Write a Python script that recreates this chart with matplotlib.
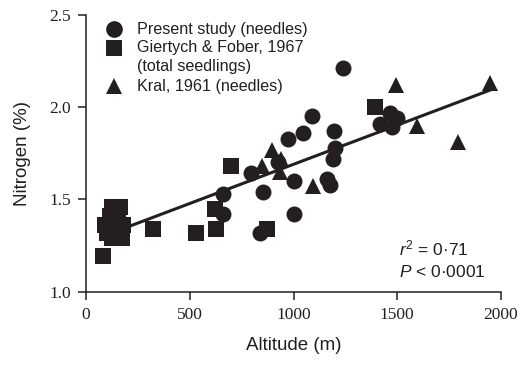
import numpy as np
import matplotlib
matplotlib.use('Agg')
import matplotlib.pyplot as plt

# Present study (needles)
present_alt = [1240, 1091, 1047, 975, 1195, 1200, 1190, 795, 925, 1000, 855,
               662, 662, 1004, 839, 1160, 1176, 1417, 1473, 1465, 1497]
present_n = [2.21, 1.95, 1.86, 1.83, 1.87, 1.78, 1.72, 1.645, 1.70, 1.60, 1.54,
             1.53, 1.42, 1.42, 1.32, 1.61, 1.58, 1.91, 1.89, 1.97, 1.94]

# Giertych & Fober, 1967 (total seedlings)
giertych_alt = [697, 622, 627, 530, 874, 83, 321, 1393,
                124, 164, 116, 156, 92, 140, 176, 100, 124, 172]
giertych_n = [1.68, 1.45, 1.34, 1.32, 1.34, 1.19, 1.34, 2.00,
              1.46, 1.46, 1.41, 1.41, 1.36, 1.36, 1.36, 1.32, 1.29, 1.29]

# Kral, 1961 (needles)
kral_alt = [895, 847, 940, 935, 1096, 1494, 1594, 1794, 1947]
kral_n = [1.77, 1.68, 1.72, 1.65, 1.57, 2.12, 1.90, 1.81, 2.13]

# regression line
fit_intercept = 1.265
fit_slope = 0.000425
fit_range = [200, 1950]

ink = '#231f20'
sans = 'Liberation Sans'
serif = 'Liberation Serif'

plt.rcParams['mathtext.fontset'] = 'custom'
plt.rcParams['mathtext.rm'] = sans
plt.rcParams['mathtext.it'] = sans + ':italic'

fig = plt.figure(figsize=(5.22, 3.67), dpi=100)
ax = fig.add_axes([86 / 522, 1 - 291.5 / 367, 415 / 522, 276.5 / 367])

fx = np.array(fit_range)
ax.plot(fx, fit_intercept + fit_slope * fx, color=ink, lw=2.2, zorder=2)

ax.plot(giertych_alt, giertych_n, 's', ms=11, color=ink, mew=0, zorder=3)
ax.plot(present_alt, present_n, 'o', ms=11.5, color=ink, mew=0, zorder=3)
ax.plot(kral_alt, kral_n, '^', ms=11.5, color=ink, mew=0, zorder=3)

ax.set_xlim(0, 2000)
ax.set_ylim(1.0, 2.5)
ax.set_xticks([0, 500, 1000, 1500, 2000])
ax.set_yticks([1.0, 1.5, 2.0, 2.5])
ax.set_xticklabels(['0', '500', '1000', '1500', '2000'], family=serif, fontsize=12.5)
ax.set_yticklabels(['1.0', '1.5', '2.0', '2.5'], family=serif, fontsize=12.5)
ax.tick_params(direction='out', length=6, width=1.1, color=ink, labelcolor=ink, pad=5)

for side in ['top', 'right']:
    ax.spines[side].set_visible(False)
for side in ['left', 'bottom']:
    ax.spines[side].set_linewidth(1.1)
    ax.spines[side].set_color(ink)

ax.set_xlabel('Altitude (m)', family=sans, fontsize=13.5, color=ink, labelpad=10)
ax.set_ylabel('Nitrogen (%)', family=sans, fontsize=13.5, color=ink, labelpad=13)

# legend drawn by hand so the marker sits on the first line of a two-line label
kx, tx = 0.0675, 0.123
entries = [('o', 0.949, 'Present study (needles)'),
           ('s', 0.881, 'Giertych & Fober, 1967'),
           (None, 0.812, '(total seedlings)'),
           ('^', 0.743, 'Kral, 1961 (needles)')]
for m, ty, label in entries:
    if m:
        ax.plot([kx], [ty], m, ms=12 if m != 's' else 11.5, color=ink, mew=0,
                transform=ax.transAxes, clip_on=False)
    ax.text(tx, ty, label, transform=ax.transAxes, family=sans, fontsize=11.6,
            color=ink, va='center', ha='left')

ax.text(0.754, 0.154, r'$r^2$ = 0·71', transform=ax.transAxes, family=sans,
        fontsize=12.5, color=ink, va='center', ha='left')
ax.text(0.754, 0.072, r'$P$ < 0·0001', transform=ax.transAxes, family=sans,
        fontsize=12.5, color=ink, va='center', ha='left')

fig.savefig('out.png', dpi=100)
